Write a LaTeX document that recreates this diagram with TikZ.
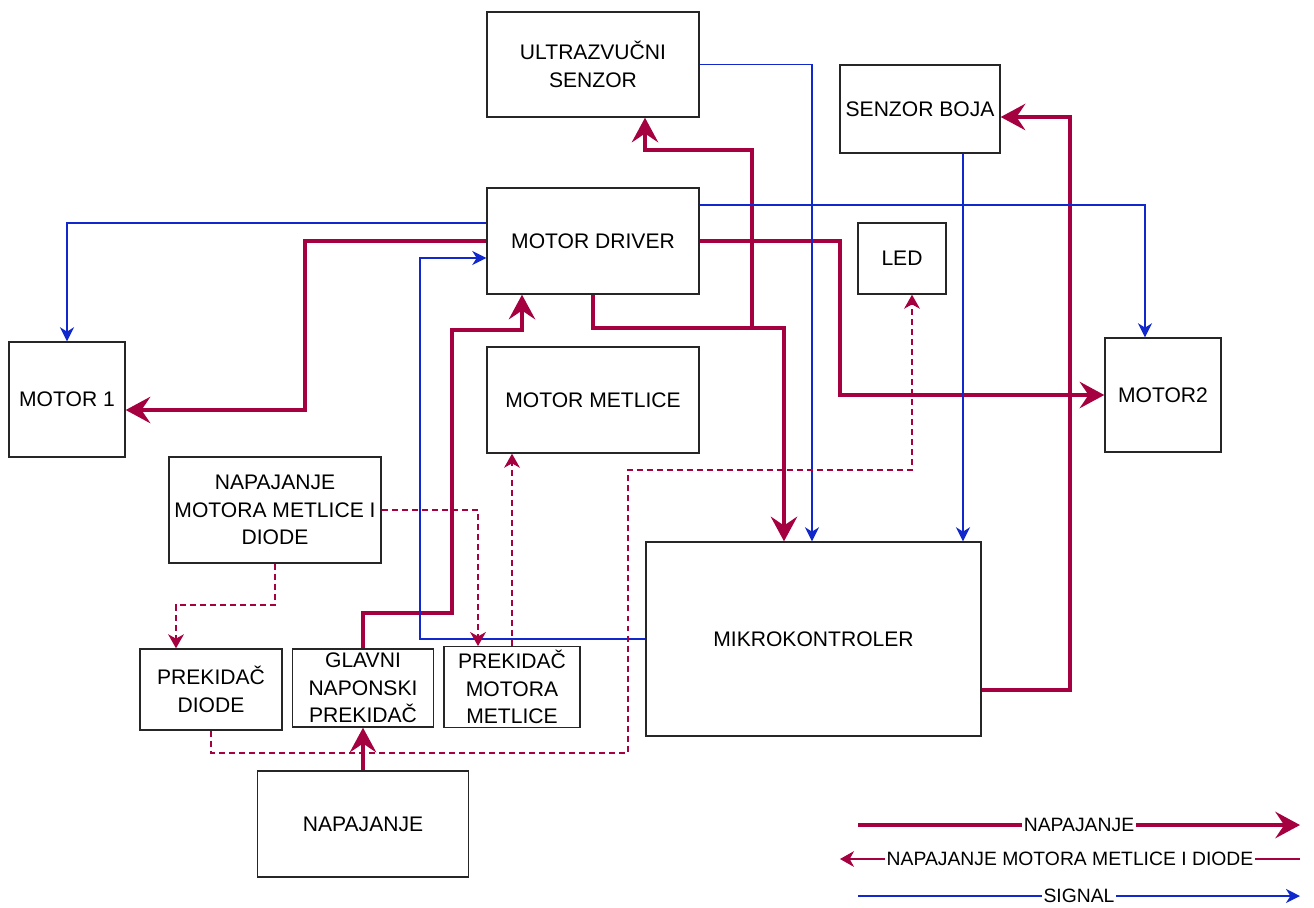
\documentclass[tikz,border=0pt]{standalone}
\usepackage{fontspec}
\setmainfont{Liberation Sans}
\usepackage{tikz}
\usetikzlibrary{arrows.meta}

\definecolor{pwrred}{RGB}{165,0,64}
\definecolor{sigblue}{RGB}{16,40,204}

\begin{document}
\begin{tikzpicture}[x=0.02cm, y=-0.02cm,
    box/.style={draw=black!85, line width=0.8pt, align=center, inner sep=2pt,
        font=\fontsize{12}{15.6}\selectfont},
    boxsize/.style 2 args={minimum width=#1*0.02cm, minimum height=#2*0.02cm},
    pwr/.style={draw=pwrred, line width=2.8pt, -{Stealth[length=14pt, width=15pt, inset=5pt]}},
    sig/.style={draw=sigblue, line width=0.8pt, -{Stealth[length=8pt, width=8pt, inset=2.5pt]}},
    aux/.style={draw=pwrred, line width=0.8pt, dash pattern=on 3.4pt off 2.3pt,
        -{Stealth[length=8pt, width=9pt, inset=2.5pt]}},
    lbl/.style={fill=white, inner sep=1pt, font=\fontsize{11}{13}\selectfont}]
            \useasboundingbox (0,0) rectangle (1314,907);

            % blocks
            \node[box, boxsize={212}{105}] (us) at (593,64.5) {ULTRAZVUČNI\\SENZOR};
            \node[box, boxsize={160}{88}] (sb) at (920,109) {SENZOR BOJA};
            \node[box, boxsize={212}{106}] (drv) at (593,241) {MOTOR DRIVER};
            \node[box, boxsize={88}{71}] (led) at (902,258.5) {LED};
            \node[box, boxsize={116}{115}] (m1) at (67,399.5) {MOTOR 1};
            \node[box, boxsize={212}{106}] (mm) at (593,400) {MOTOR METLICE};
            \node[box, boxsize={116}{114}] (m2) at (1163,395) {MOTOR2};
            \node[box, boxsize={212}{106}] (nmd) at (275,510) {NAPAJANJE\\MOTORA METLICE I\\DIODE};
            \node[box, boxsize={335}{194}] (mk) at (813.5,639) {MIKROKONTROLER};
            \node[box, boxsize={142}{81}] (pd) at (211,689.5) {PREKIDAČ\\DIODE};
            \node[box, boxsize={141}{78}] (gnp) at (363,688) {GLAVNI\\NAPONSKI\\PREKIDAČ};
            \node[box, boxsize={136}{80}] (pmm) at (512,687) {PREKIDAČ\\MOTORA\\METLICE};
            \node[box, boxsize={211}{106}] (nap) at (363,824) {NAPAJANJE};

            % napajanje
            \coordinate (jn) at (752,328);
            \draw[pwr] (nap.north) -- (gnp.south);
            \draw[pwr] (gnp.north) |- (452,613) |- (522,330) -- (drv.south -| 522,330);
            \draw[pwr] (drv.west) -| (305,410) -- (m1.east |- 0,410);
            \draw[pwr] (drv.east) -| (840,300) |- (m2.west);
            \draw[pwr] (drv.south) |- (784,328) -- (mk.north -| 784,0);
            \draw[pwr] (jn) |- (645,150) -- (us.south -| 645,0);
            \draw[pwr] (mk.east |- 0,690) -| (1070,117) -- (sb.east |- 0,117);

            % signal
            \draw[sig] (us.east) -| (mk.north -| 812,0);
            \draw[sig] (sb.south -| 963,0) -- (mk.north -| 963,0);
            \draw[sig] (drv.east |- 0,205) -| (m2.north -| 1145,0);
            \draw[sig] (drv.west |- 0,223) -| (m1.north);
            \draw[sig] (mk.west) -| (420,258) -- (drv.west |- 0,258);

            % napajanje motora metlice i diode
            \draw[aux] (nmd.south) |- (176,605) -- (pd.north -| 176,0);
            \draw[aux] (nmd.east) -| (pmm.north -| 478,0);
            \draw[aux] (pmm.north) -- (mm.south -| pmm.north);
            \draw[aux] (pd.south) |- (628,753) |- (912,470) -- (led.south -| 912,0);

            % legenda
            \coordinate (la1) at (858,825);
            \coordinate (lb1) at (1300,825);
            \coordinate (la2) at (1300,859);
            \coordinate (lb2) at (840,859);
            \coordinate (la3) at (858,896);
            \coordinate (lb3) at (1300,896);
            \draw[pwr] (la1) -- (lb1) node[lbl, midway] {NAPAJANJE};
            \draw[draw=pwrred, line width=0.8pt, -{Stealth[length=8pt, width=9pt, inset=2.5pt]}]
                (la2) -- (lb2) node[lbl, midway] {NAPAJANJE MOTORA METLICE I DIODE};
            \draw[sig] (la3) -- (lb3) node[lbl, midway] {SIGNAL};
        \end{tikzpicture}
\end{document}
